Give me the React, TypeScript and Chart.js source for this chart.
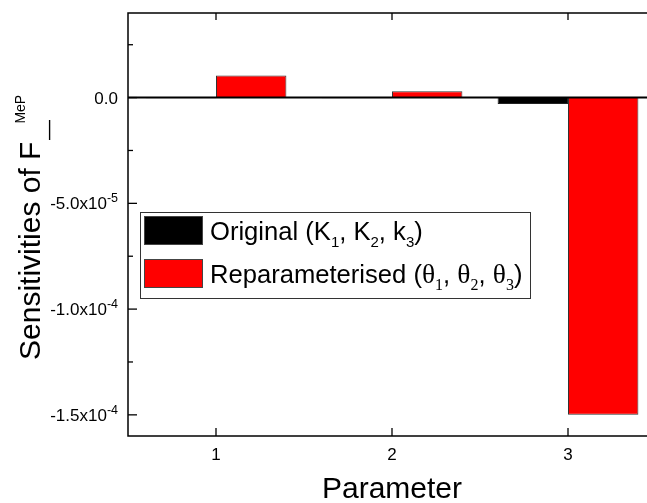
import React, { useEffect, useRef } from "react";
import { Chart, registerables } from "chart.js";

Chart.register(...registerables);

// ---- data ----
const categories = ["1", "2", "3"];
const originalLabel = "Original (K₁, K₂, k₃)";
const reparamLabel = "Reparameterised (θ₁, θ₂, θ₃)";
const originalValues = [-3e-7, -3e-7, -3.0e-6];
const reparamValues = [1.05e-5, 3.0e-6, -1.5e-4];
const yMajorTicks = [-1.5e-4, -1.0e-4, -5.0e-5, 0];
const yTickMantissa = ["-1.5x10", "-1.0x10", "-5.0x10", "0.0"];
const yTickExponent = ["-4", "-4", "-5", ""];
const yMinorTicks = [-1.25e-4, -7.5e-5, -2.5e-5, 2.5e-5];
const yMin = -1.6e-4;
const yMax = 4e-5;
const xTitle = "Parameter";
const yTitleMain = "Sensitivities of F";
const yTitleSub = "—";
const yTitleSup = "MeP";

const SANS = "'Liberation Sans', Arial, Helvetica, sans-serif";
const SERIF = "'Liberation Serif', 'Times New Roman', serif";

type Seg = { t: string; f: string; dy?: number };

function richWidth(ctx: CanvasRenderingContext2D, segs: Seg[]) {
  let w = 0;
  for (const s of segs) {
    ctx.font = s.f;
    w += ctx.measureText(s.t).width;
  }
  return w;
}

function drawRich(ctx: CanvasRenderingContext2D, segs: Seg[], x: number, y: number) {
  let cx = x;
  for (const s of segs) {
    ctx.font = s.f;
    ctx.fillText(s.t, cx, y + (s.dy || 0));
    cx += ctx.measureText(s.t).width;
  }
  return cx;
}

const main = `25.6px ${SANS}`;
const subS = `15px ${SANS}`;
const th = `27.5px ${SERIF}`;
const subT = `16px ${SERIF}`;

const legendRows: { color: string; segs: Seg[] }[] = [
  {
    color: "#000000",
    segs: [
      { t: "Original (K", f: main },
      { t: "1", f: subS, dy: 7 },
      { t: ", K", f: main },
      { t: "2", f: subS, dy: 7 },
      { t: ", k", f: main },
      { t: "3", f: subS, dy: 7 },
      { t: ")", f: main },
    ],
  },
  {
    color: "#ff0000",
    segs: [
      { t: "Reparameterised (", f: main },
      { t: "θ", f: th },
      { t: "1", f: subT, dy: 7 },
      { t: ", ", f: main },
      { t: "θ", f: th },
      { t: "2", f: subT, dy: 7 },
      { t: ", ", f: main },
      { t: "θ", f: th },
      { t: "3", f: subT, dy: 7 },
      { t: ")", f: main },
    ],
  },
];

function line(ctx: CanvasRenderingContext2D, x1: number, y1: number, x2: number, y2: number) {
  ctx.beginPath();
  ctx.moveTo(x1, y1);
  ctx.lineTo(x2, y2);
  ctx.stroke();
}

const framePlugin = {
  id: "frame",
  afterDatasetsDraw(chart: any) {
    const { ctx, chartArea: a, scales } = chart;
    const y = scales.y;
    const x = scales.x;
    ctx.save();
    ctx.strokeStyle = "#000";
    // zero line
    const y0 = y.getPixelForValue(0);
    ctx.lineWidth = 2;
    line(ctx, a.left, y0, a.right, y0);
    // frame
    ctx.lineWidth = 1.5;
    ctx.strokeRect(a.left, a.top, a.right - a.left, a.bottom - a.top);
    // ticks
    ctx.lineWidth = 1.3;
    yMajorTicks.forEach((v) => {
      const p = y.getPixelForValue(v);
      line(ctx, a.left, p, a.left + 9, p);
      line(ctx, a.right, p, a.right - 9, p);
    });
    yMinorTicks.forEach((v) => {
      const p = y.getPixelForValue(v);
      line(ctx, a.left, p, a.left + 5, p);
      line(ctx, a.right, p, a.right - 5, p);
    });
    categories.forEach((_c, i) => {
      const p = x.getPixelForValue(i);
      line(ctx, p, a.bottom, p, a.bottom - 8);
      line(ctx, p, a.top, p, a.top + 7);
    });
    // y tick labels with superscript exponents
    ctx.fillStyle = "#000";
    ctx.textAlign = "left";
    ctx.textBaseline = "alphabetic";
    yMajorTicks.forEach((v, i) => {
      const p = y.getPixelForValue(v);
      const segs: Seg[] = [
        { t: yTickMantissa[i], f: `17px ${SANS}` },
        { t: yTickExponent[i], f: `12.5px ${SANS}`, dy: -7 },
      ];
      const w = richWidth(ctx, segs);
      drawRich(ctx, segs, a.left - 10 - w, p + 6);
    });
    ctx.restore();
  },
  afterDraw(chart: any) {
    const ctx: CanvasRenderingContext2D = chart.ctx;
    ctx.save();
    // legend
    const bx = 140, by = 212, bw = 390, bh = 86;
    ctx.fillStyle = "#fff";
    ctx.fillRect(bx, by, bw, bh);
    ctx.strokeStyle = "#333";
    ctx.lineWidth = 1;
    ctx.strokeRect(bx + 0.5, by + 0.5, bw, bh);
    legendRows.forEach((r, i) => {
      const sy = 216 + i * 43;
      ctx.fillStyle = r.color;
      ctx.fillRect(144, sy, 58, 28);
      ctx.strokeStyle = "#444";
      ctx.strokeRect(144.5, sy + 0.5, 58, 28);
      ctx.fillStyle = "#000";
      ctx.textBaseline = "alphabetic";
      ctx.textAlign = "left";
      drawRich(ctx, r.segs, 210, 240 + i * 43);
    });
    // y title
    ctx.translate(40, 360);
    ctx.rotate(-Math.PI / 2);
    ctx.fillStyle = "#000";
    ctx.textAlign = "left";
    ctx.textBaseline = "alphabetic";
    ctx.font = `30px ${SANS}`;
    ctx.fillText(yTitleMain, 0, 0);
    const p0 = ctx.measureText(yTitleMain).width;
    ctx.font = `20px ${SANS}`;
    ctx.fillText(yTitleSub, p0 + 1.5, 14.5);
    ctx.font = `14px ${SANS}`;
    ctx.fillText(yTitleSup, p0 + 18, -15);
    ctx.restore();
  },
};

export default function App() {
  const ref = useRef<HTMLCanvasElement>(null);
  useEffect(() => {
    const chart = new Chart(ref.current as HTMLCanvasElement, {
      type: "bar",
      data: {
        labels: categories,
        datasets: [
          {
            label: originalLabel,
            data: originalValues,
            backgroundColor: "#000000",
            borderColor: "#222222",
            borderWidth: 1,
            barPercentage: 1,
            categoryPercentage: 0.8,
          },
          {
            label: reparamLabel,
            data: reparamValues,
            backgroundColor: "#ff0000",
            borderColor: "#333333",
            borderWidth: 1,
            barPercentage: 1,
            categoryPercentage: 0.8,
          },
        ],
      },
      options: {
        animation: false,
        responsive: true,
        maintainAspectRatio: false,
        layout: { padding: { top: 13, right: 14, left: 0, bottom: 0 } },
        plugins: {
          legend: { display: false },
          tooltip: { enabled: false },
        },
        scales: {
          x: {
            type: "category",
            offset: true,
            grid: { display: false, drawTicks: false },
            border: { display: false },
            ticks: {
              color: "#000",
              font: { family: SANS, size: 17 },
              padding: 9,
              maxRotation: 0,
              autoSkip: false,
            },
            title: {
              display: true,
              text: xTitle,
              color: "#000",
              font: { family: SANS, size: 30 },
              padding: { top: 0, bottom: -5 },
            },
            afterFit: (s: any) => {
              s.height = 67;
              s.paddingLeft = 0;
              s.paddingRight = 0;
            },
          },
          y: {
            type: "linear",
            min: yMin,
            max: yMax,
            grid: { display: false, drawTicks: false },
            border: { display: false },
            afterBuildTicks: (s: any) => {
              s.ticks = yMajorTicks.map((v) => ({ value: v }));
            },
            ticks: { display: false },
            afterFit: (s: any) => {
              s.width = 128;
              s.paddingTop = 0;
              s.paddingBottom = 0;
            },
          },
        },
      },
      plugins: [framePlugin],
    });
    return () => chart.destroy();
  }, []);
  return (
    <div
      style={{
        position: "fixed",
        left: 0,
        top: 0,
        width: 647,
        height: 503,
        overflow: "hidden",
        background: "#fff",
      }}
    >
      <div style={{ position: "relative", width: 670, height: 503 }}>
        <canvas ref={ref} />
      </div>
    </div>
  );
}
